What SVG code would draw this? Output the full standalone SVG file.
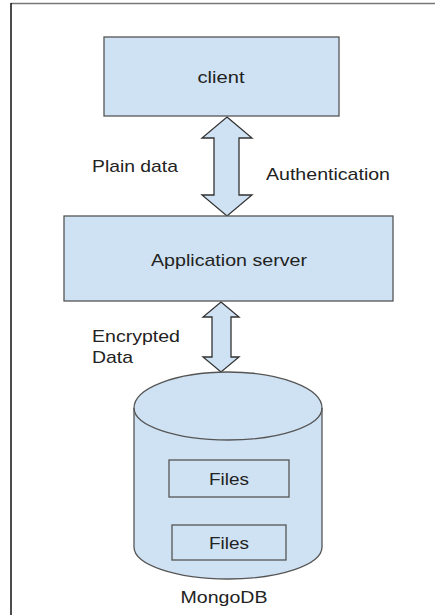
<svg xmlns="http://www.w3.org/2000/svg" width="435" height="615" viewBox="0 0 435 615">
<style>
.box{fill:#cfe2f3;stroke:#555;stroke-width:1.3}
.arr{fill:#cfe2f3;stroke:#333;stroke-width:1.3;stroke-linejoin:miter}
.t{font-family:"Liberation Sans",Arial,sans-serif;font-size:17px;fill:#222}
.c{text-anchor:middle}
</style>
<rect x="0" y="0" width="435" height="615" fill="#fff"/>
<line x1="11" y1="3.5" x2="435" y2="3.5" stroke="#777" stroke-width="1.5"/>
<line x1="11" y1="3" x2="11" y2="615" stroke="#111" stroke-width="1.5"/>
<g id="connectors">
<path class="arr" d="M227 117 L252 138 L239 138 L239 195 L252 195 L227 216 L202 195 L214 195 L214 138 L202 138 Z"/>
<path class="arr" d="M221 302 L239 317 L231 317 L231 357 L239 357 L221 372 L203 357 L212 357 L212 317 L203 317 Z"/>
</g>
<g id="client">
<rect class="box" x="104" y="37" width="235" height="79"/>
<text class="t c" x="221" y="83" textLength="47" lengthAdjust="spacingAndGlyphs">client</text>
</g>
<g id="labels">
<text class="t" x="92" y="172" textLength="86" lengthAdjust="spacingAndGlyphs">Plain data</text>
<text class="t" x="266" y="180" textLength="124" lengthAdjust="spacingAndGlyphs">Authentication</text>
<text class="t" x="92" y="342" textLength="88" lengthAdjust="spacingAndGlyphs">Encrypted</text>
<text class="t" x="92" y="363" textLength="41" lengthAdjust="spacingAndGlyphs">Data</text>
</g>
<g id="appserver">
<rect class="box" x="64" y="216" width="329" height="85"/>
<text class="t c" x="229" y="266" textLength="156" lengthAdjust="spacingAndGlyphs">Application server</text>
</g>
<g id="mongodb">
<path class="box" d="M134 408 A94 36 0 0 1 322 408 L322 547 A94 32 0 0 1 134 547 Z"/>
<path d="M134 408 A94 32 0 0 0 322 408" fill="none" stroke="#555" stroke-width="1.3"/>
<rect class="box" x="169" y="460" width="120" height="37"/>
<text class="t c" x="229" y="485" textLength="40" lengthAdjust="spacingAndGlyphs">Files</text>
<rect class="box" x="172" y="525" width="114" height="35"/>
<text class="t c" x="229" y="549" textLength="40" lengthAdjust="spacingAndGlyphs">Files</text>
<text class="t c" x="224" y="603" textLength="87" lengthAdjust="spacingAndGlyphs">MongoDB</text>
</g>
</svg>
